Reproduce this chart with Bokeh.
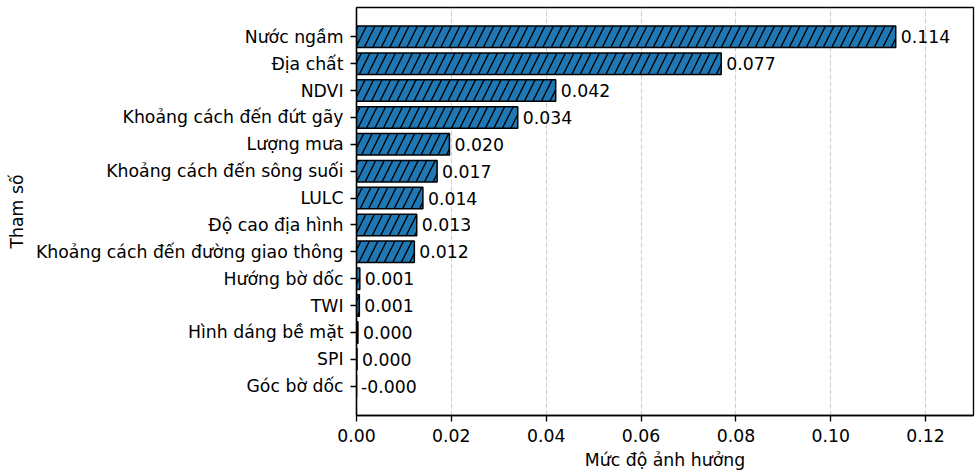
from bokeh.plotting import figure
from bokeh.models import Range1d, FixedTicker, PrintfTickFormatter, ColumnDataSource
from bokeh.embed import file_html
from bokeh.resources import INLINE
from bokeh.core.properties import value

# Data (top to bottom as shown)
categories = ["Nước ngầm", "Địa chất", "NDVI", "Khoảng cách đến đứt gãy", "Lượng mưa",
              "Khoảng cách đến sông suối", "LULC", "Độ cao địa hình",
              "Khoảng cách đến đường giao thông", "Hướng bờ dốc", "TWI",
              "Hình dáng bề mặt", "SPI", "Góc bờ dốc"]
importance = [0.1137, 0.0769, 0.0420, 0.0340, 0.0196, 0.0170, 0.0140, 0.0127,
              0.0122, 0.0007, 0.0006, 0.0003, 0.0001, -0.0001]
x_ticks = [0.0, 0.02, 0.04, 0.06, 0.08, 0.10, 0.12]

n = len(categories)
ypos = [n - 1 - i for i in range(n)]
labels = [f"{v:.3f}" for v in importance]

src = ColumnDataSource(dict(y=ypos, v=importance, lab=labels, cat=categories))

FONT = "DejaVu Sans"
FS = "17.3px"

p = figure(width=975, height=472, output_backend="svg", toolbar_location=None,
           x_range=Range1d(0, 0.1301), y_range=Range1d(-1.09, n - 1 + 1.09),
           min_border_left=356, min_border_right=2, min_border_top=7, min_border_bottom=54)

p.hbar(y="y", left=0, right="v", height=0.8, source=src,
       fill_color="#1f77b4", line_color="black", line_width=1.5,
       hatch_pattern="/", hatch_color="black", hatch_scale=17, hatch_weight=1.4)

p.text(x="v", y="y", text="lab", source=src, x_offset=5,
       text_baseline="middle", text_align="left",
       text_font=value(FONT), text_font_size=FS, text_color="black")

p.xaxis.ticker = FixedTicker(ticks=x_ticks)
p.xaxis.formatter = PrintfTickFormatter(format="%.2f")
p.yaxis.ticker = FixedTicker(ticks=ypos)
p.yaxis.major_label_overrides = {y: c for y, c in zip(ypos, categories)}

p.xaxis.axis_label = "Mức độ ảnh hưởng"
p.yaxis.axis_label = "Tham số"

for ax in (p.xaxis[0], p.yaxis[0]):
    ax.axis_label_text_font = FONT
    ax.axis_label_text_font_size = FS
    ax.axis_label_text_font_style = "normal"
    ax.axis_label_text_color = "black"
    ax.major_label_text_font = FONT
    ax.major_label_text_font_size = FS
    ax.major_label_text_color = "black"
    ax.axis_line_color = "black"
    ax.axis_line_width = 1.33
    ax.major_tick_line_color = "black"
    ax.major_tick_line_width = 1.33
    ax.major_tick_out = 6
    ax.major_tick_in = 0
    ax.minor_tick_line_color = None

p.xaxis.major_label_standoff = 7
p.xaxis.axis_label_standoff = 5
p.yaxis.major_label_standoff = 7
p.yaxis.axis_label_standoff = 6

p.xgrid.grid_line_color = "#b0b0b0"
p.xgrid.grid_line_alpha = 0.6
p.xgrid.grid_line_dash = "5 2"
p.xgrid.grid_line_width = 1.1
p.ygrid.grid_line_color = None

p.outline_line_color = "black"
p.outline_line_width = 1.33
p.background_fill_color = "white"
p.border_fill_color = "white"

open("out.html", "w").write(file_html(p, INLINE))
